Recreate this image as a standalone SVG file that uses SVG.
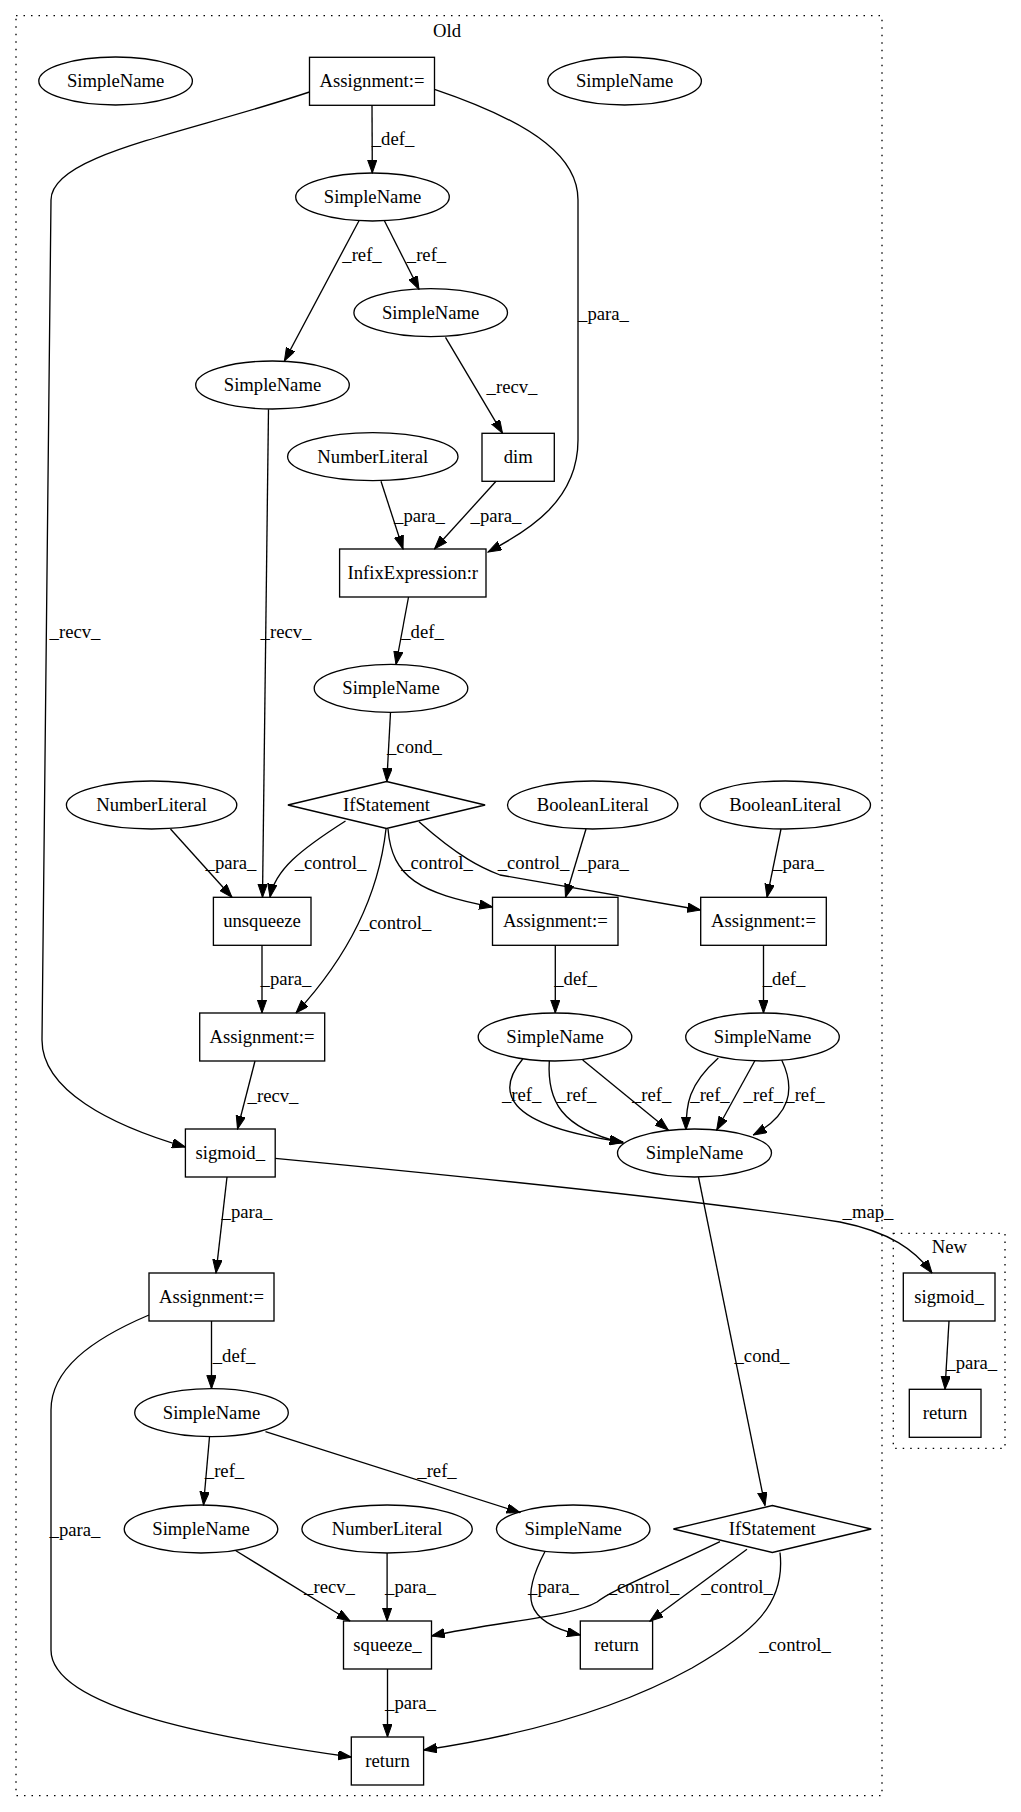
<svg xmlns="http://www.w3.org/2000/svg" width="1021" height="1812" viewBox="0 0 1021 1812">
<defs>
<marker id="ah" markerUnits="userSpaceOnUse" markerWidth="14" markerHeight="10" refX="13.3" refY="4.7" orient="auto">
<path d="M0,0 L13.3,4.7 L0,9.4 z" fill="#000" stroke="#000" stroke-width="1"/>
</marker>
</defs>
<style>
text{font-family:"Liberation Serif","Times New Roman",serif;font-size:18.67px;fill:#000;text-anchor:middle}
.n ellipse,.n rect,.n polygon{fill:none;stroke:#000;stroke-width:1.33}
.cl{fill:none;stroke:#000;stroke-width:1.33;stroke-dasharray:1.5,6}
.e path{fill:none;stroke:#000;stroke-width:1.33;marker-end:url(#ah)}
</style>
<rect width="1021" height="1812" fill="#fff"/>
<g id="cluster_old"><rect class="cl" x="16" y="15.7" width="866" height="1780"/><text x="447" y="37">Old</text></g>
<g id="cluster_new"><rect class="cl" x="893.3" y="1233.3" width="111.7" height="215"/><text x="949.3" y="1252.5">New</text></g>

<g id="n1" class="n"><ellipse cx="115.6" cy="81" rx="76.8" ry="24"/><text x="115.6" y="87">SimpleName</text></g>
<g id="n2" class="n"><rect x="309.5" y="57.3" width="125" height="48"/><text x="372" y="87">Assignment:=</text></g>
<g id="n3" class="n"><ellipse cx="624.6" cy="81" rx="76.8" ry="24"/><text x="624.6" y="87">SimpleName</text></g>
<g id="n4" class="n"><ellipse cx="372.5" cy="197" rx="76.8" ry="24"/><text x="372.5" y="203">SimpleName</text></g>
<g id="n5" class="n"><ellipse cx="430.7" cy="312.7" rx="76.8" ry="24"/><text x="430.7" y="318.7">SimpleName</text></g>
<g id="n6" class="n"><ellipse cx="272.5" cy="385" rx="76.8" ry="24"/><text x="272.5" y="391">SimpleName</text></g>
<g id="n7" class="n"><rect x="482" y="433.3" width="72.3" height="48"/><text x="518.2" y="463.3">dim</text></g>
<g id="n8" class="n"><ellipse cx="372.8" cy="456.7" rx="85.2" ry="24"/><text x="372.8" y="462.7">NumberLiteral</text></g>
<g id="n9" class="n"><rect x="339.6" y="549" width="146.4" height="48"/><text x="412.8" y="579">InfixExpression:r</text></g>
<g id="n10" class="n"><ellipse cx="391" cy="688.3" rx="76.8" ry="24"/><text x="391" y="694.3">SimpleName</text></g>
<g id="n11" class="n"><polygon points="386.5,781.5 485.1,805 386.5,828.5 287.9,805"/><text x="386.5" y="811">IfStatement</text></g>
<g id="n12" class="n"><ellipse cx="151.6" cy="805" rx="85.2" ry="24"/><text x="151.6" y="811">NumberLiteral</text></g>
<g id="n13" class="n"><ellipse cx="592.7" cy="805" rx="85.2" ry="24"/><text x="592.7" y="811">BooleanLiteral</text></g>
<g id="n14" class="n"><ellipse cx="785.3" cy="805" rx="85.2" ry="24"/><text x="785.3" y="811">BooleanLiteral</text></g>
<g id="n15" class="n"><rect x="213.4" y="897.3" width="97.6" height="48"/><text x="262" y="927">unsqueeze</text></g>
<g id="n16" class="n"><rect x="492.5" y="897.3" width="125.5" height="48"/><text x="555.3" y="927">Assignment:=</text></g>
<g id="n17" class="n"><rect x="700.7" y="897.3" width="125.6" height="48"/><text x="763.5" y="927">Assignment:=</text></g>
<g id="n18" class="n"><rect x="199.7" y="1013" width="125" height="48"/><text x="262" y="1043">Assignment:=</text></g>
<g id="n19" class="n"><ellipse cx="555" cy="1037" rx="76.8" ry="24"/><text x="555" y="1043">SimpleName</text></g>
<g id="n20" class="n"><ellipse cx="762.5" cy="1037" rx="76.8" ry="24"/><text x="762.5" y="1043">SimpleName</text></g>
<g id="n21" class="n"><rect x="185.4" y="1129" width="89.8" height="48"/><text x="230.3" y="1159">sigmoid_</text></g>
<g id="n22" class="n"><ellipse cx="694.5" cy="1153" rx="77" ry="24"/><text x="694.5" y="1159">SimpleName</text></g>
<g id="n23" class="n"><rect x="149" y="1273" width="125" height="48"/><text x="211.5" y="1303">Assignment:=</text></g>
<g id="n24" class="n"><ellipse cx="211.5" cy="1412.7" rx="76.8" ry="24"/><text x="211.5" y="1418.7">SimpleName</text></g>
<g id="n25" class="n"><ellipse cx="201" cy="1529" rx="76.8" ry="24"/><text x="201" y="1535">SimpleName</text></g>
<g id="n26" class="n"><ellipse cx="387.1" cy="1529" rx="85.2" ry="24"/><text x="387.1" y="1535">NumberLiteral</text></g>
<g id="n27" class="n"><ellipse cx="573.2" cy="1529" rx="76.8" ry="24"/><text x="573.2" y="1535">SimpleName</text></g>
<g id="n28" class="n"><polygon points="772.3,1505.5 871.2,1529 772.3,1552.5 673.4,1529"/><text x="772.3" y="1535">IfStatement</text></g>
<g id="n29" class="n"><rect x="343.5" y="1621" width="88" height="48"/><text x="387.5" y="1651">squeeze_</text></g>
<g id="n30" class="n"><rect x="580.3" y="1621" width="72.3" height="48"/><text x="616.5" y="1651">return</text></g>
<g id="n31" class="n"><rect x="351.3" y="1737" width="72.3" height="48"/><text x="387.5" y="1767">return</text></g>
<g id="n32" class="n"><rect x="903.3" y="1273" width="91.7" height="48"/><text x="949" y="1303">sigmoid_</text></g>
<g id="n33" class="n"><rect x="909.3" y="1389.3" width="71.7" height="48"/><text x="945" y="1419">return</text></g>

<g id="edges" class="e">
<path d="M372,105.3 L372.3,173"/>
<path d="M309.5,92 C180,135 51,155 51,200 L42,1040 C42,1090 110,1125 185.4,1147"/>
<path d="M434.5,89.3 C540,125 578,160 578,200 L578,440 C578,500 530,530 488,552"/>
<path d="M359,220.7 L284.4,361"/>
<path d="M384.4,220.7 L419,289.3"/>
<path d="M445.5,337.3 L502.5,433.3"/>
<path d="M268.5,409.3 L262.5,897.3"/>
<path d="M381,481.3 L403,549"/>
<path d="M496,481.3 L434.5,549"/>
<path d="M408.5,597 L396,664.5"/>
<path d="M390.5,712.5 L386.8,781.5"/>
<path d="M170.5,829 L232,897.3"/>
<path d="M345.5,821 C300,850 275,870 270,897.3"/>
<path d="M386,829 C378,900 345,960 296,1013"/>
<path d="M388,829 C392,878 420,893 492.5,907"/>
<path d="M419,821.7 C460,858 482,868 500,875 L700.7,910"/>
<path d="M586,829 L565.5,897.3"/>
<path d="M781,829 L767,897.3"/>
<path d="M262,945.3 L262,1013"/>
<path d="M555.3,945.3 L555.3,1013"/>
<path d="M763.5,945.3 L763.5,1013"/>
<path d="M255,1061 L237.5,1129"/>
<path d="M522.7,1059 C497,1090 500,1125 623,1142"/>
<path d="M549.3,1061 C547,1100 560,1128 623,1143"/>
<path d="M582.7,1060 L668.3,1130"/>
<path d="M718.3,1058 C688,1085 686,1105 686,1130"/>
<path d="M755,1060.5 L716.7,1130"/>
<path d="M781.7,1060 C796,1090 790,1115 753.3,1135"/>
<path d="M227,1177 L216,1273"/>
<path d="M275.2,1158.3 C450,1175 700,1200 840,1222 C890,1232 915,1250 932,1273"/>
<path d="M698.5,1177 L765,1505.5"/>
<path d="M949,1321 L945,1389.3"/>
<path d="M149,1315 C90,1340 51,1370 51,1410 L51,1650 C51,1710 230,1740 351.3,1757"/>
<path d="M211.5,1321 L211.5,1388.7"/>
<path d="M209.5,1436.7 L203.5,1505"/>
<path d="M265.5,1431.7 L520,1512.5"/>
<path d="M235.5,1550.5 L350,1621"/>
<path d="M387.1,1553 L387.1,1621"/>
<path d="M545,1551.5 C522,1595 522,1622 580.3,1635"/>
<path d="M720,1541.7 C640,1580 612,1590 597,1602 C572,1617 500,1621 431.5,1636"/>
<path d="M747,1549.3 L650,1621"/>
<path d="M780,1552.5 C786,1605 752,1633 692,1668 C605,1716 505,1738 423.6,1750"/>
<path d="M387.5,1669 L387.5,1737"/>
</g>

<g id="labels">
<text x="393" y="145">_def_</text>
<text x="362" y="261">_ref_</text>
<text x="426.5" y="261">_ref_</text>
<text x="603.5" y="320">_para_</text>
<text x="512" y="392.5">_recv_</text>
<text x="75" y="637.5">_recv_</text>
<text x="286" y="637.5">_recv_</text>
<text x="419.5" y="522">_para_</text>
<text x="496" y="522">_para_</text>
<text x="422.5" y="637.5">_def_</text>
<text x="414.5" y="752.5">_cond_</text>
<text x="231" y="869">_para_</text>
<text x="330.5" y="869">_control_</text>
<text x="437" y="869">_control_</text>
<text x="533.5" y="869">_control_</text>
<text x="603.5" y="869">_para_</text>
<text x="798.5" y="869">_para_</text>
<text x="395.5" y="928.5">_control_</text>
<text x="286" y="985">_para_</text>
<text x="575.5" y="985">_def_</text>
<text x="784" y="985">_def_</text>
<text x="273" y="1101.5">_recv_</text>
<text x="521.7" y="1101">_ref_</text>
<text x="576.7" y="1101">_ref_</text>
<text x="651.7" y="1101">_ref_</text>
<text x="710" y="1101">_ref_</text>
<text x="763.3" y="1101">_ref_</text>
<text x="805" y="1101">_ref_</text>
<text x="247" y="1217.5">_para_</text>
<text x="868" y="1217.5">_map_</text>
<text x="234" y="1361.5">_def_</text>
<text x="762" y="1361.5">_cond_</text>
<text x="971.7" y="1369">_para_</text>
<text x="75" y="1536">_para_</text>
<text x="224.5" y="1477">_ref_</text>
<text x="437" y="1477">_ref_</text>
<text x="329.5" y="1593">_recv_</text>
<text x="410.5" y="1593">_para_</text>
<text x="553.5" y="1593">_para_</text>
<text x="643.5" y="1593">_control_</text>
<text x="737" y="1593">_control_</text>
<text x="795" y="1651">_control_</text>
<text x="410.5" y="1709">_para_</text>
</g>
</svg>
